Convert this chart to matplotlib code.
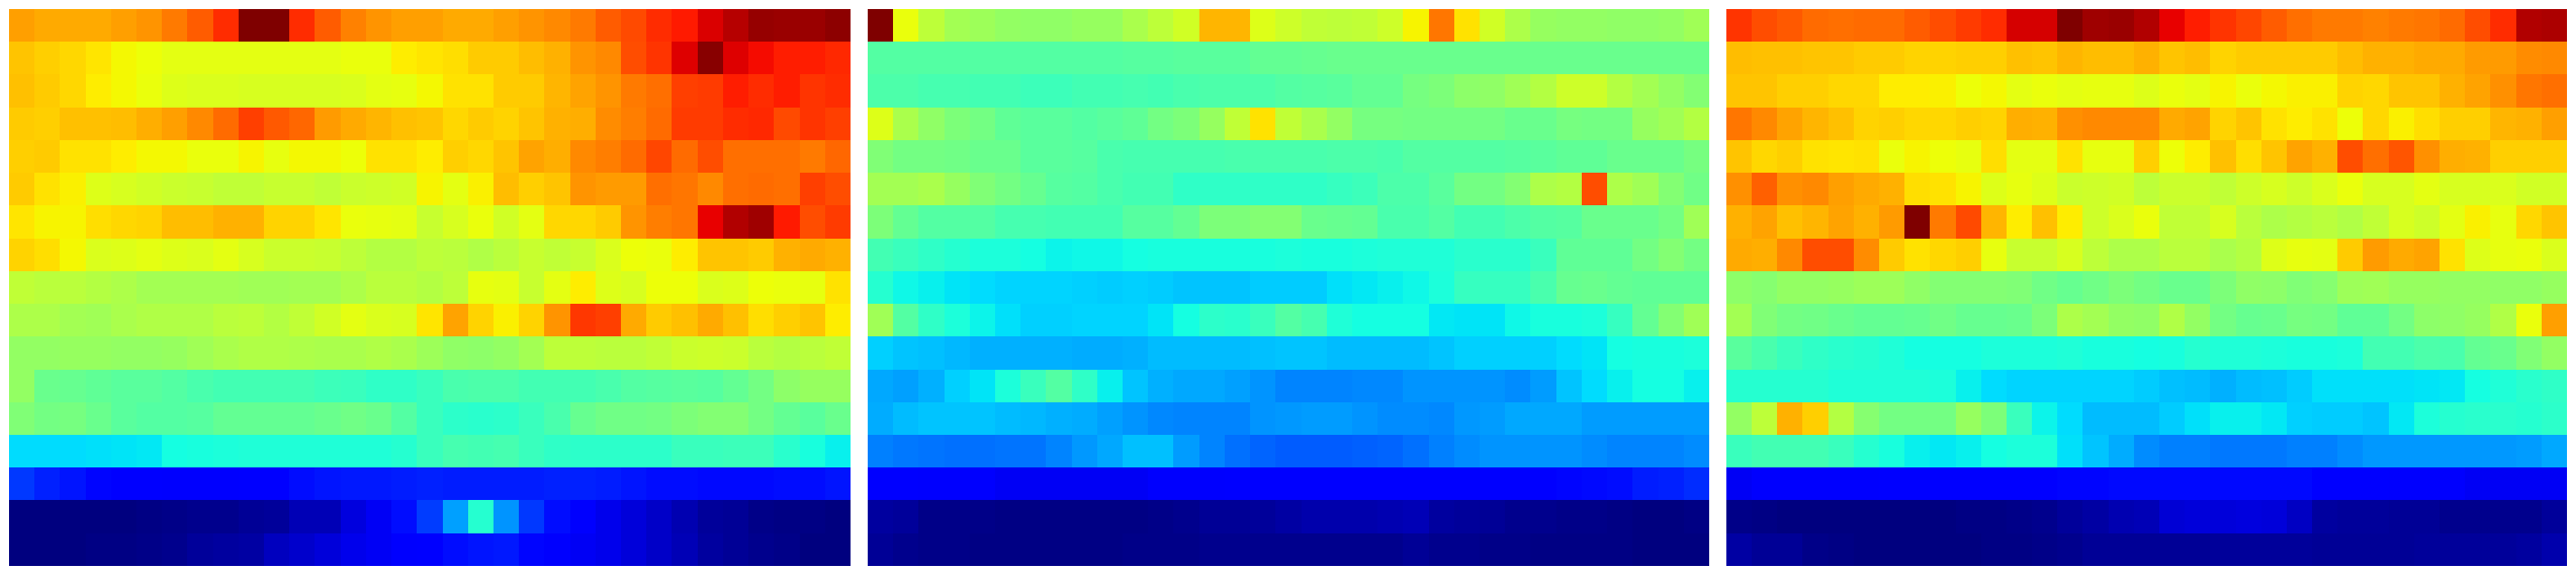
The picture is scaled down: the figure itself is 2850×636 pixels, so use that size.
import numpy as np
import matplotlib
matplotlib.use("Agg")
import matplotlib.pyplot as plt

# values, 17 rows x 33 columns, 0 = navy, 1 = dark red
panel_a = [
    [.74,.73,.73,.73,.74,.75,.78,.81,.86,1,1,.86,.81,.77,.75,.74,.74,.73,.73,.74,.75,.765,.78,.81,.83,.86,.88,.92,.95,.98,.975,.975,.985],
    [.70,.69,.68,.665,.645,.64,.625,.625,.625,.625,.625,.625,.625,.635,.635,.66,.665,.675,.695,.695,.71,.72,.75,.765,.825,.855,.915,.99,.915,.895,.875,.875,.865],
    [.705,.695,.68,.66,.645,.635,.62,.615,.615,.61,.61,.61,.61,.615,.625,.63,.645,.67,.67,.695,.695,.715,.735,.75,.78,.79,.84,.845,.875,.86,.875,.855,.86],
    [.695,.69,.705,.705,.71,.725,.74,.765,.795,.84,.815,.80,.745,.73,.715,.705,.70,.68,.695,.685,.70,.72,.725,.76,.775,.795,.845,.845,.86,.865,.83,.855,.84],
    [.69,.695,.67,.67,.66,.645,.645,.635,.635,.65,.63,.645,.645,.64,.67,.67,.66,.69,.68,.70,.735,.725,.765,.775,.795,.835,.795,.825,.79,.79,.79,.78,.80],
    [.695,.67,.655,.62,.61,.605,.595,.59,.585,.585,.59,.59,.585,.595,.60,.605,.65,.625,.655,.71,.69,.70,.75,.745,.745,.79,.785,.765,.79,.795,.79,.84,.825],
    [.665,.65,.65,.675,.68,.685,.71,.71,.72,.72,.685,.685,.665,.635,.63,.625,.59,.61,.635,.605,.625,.68,.68,.695,.75,.775,.785,.91,.955,.97,.88,.825,.845],
    [.685,.675,.645,.615,.62,.625,.62,.615,.625,.61,.595,.595,.59,.58,.57,.57,.58,.575,.565,.575,.59,.585,.59,.615,.64,.635,.66,.70,.70,.695,.72,.73,.72],
    [.585,.575,.575,.57,.56,.55,.55,.55,.55,.545,.545,.55,.55,.56,.575,.575,.57,.58,.63,.625,.59,.625,.66,.62,.61,.64,.64,.615,.62,.64,.635,.63,.67],
    [.56,.56,.55,.545,.555,.565,.565,.565,.575,.58,.57,.585,.605,.625,.615,.61,.665,.735,.685,.655,.685,.75,.85,.84,.73,.695,.705,.73,.705,.675,.69,.70,.66],
    [.53,.53,.535,.535,.53,.53,.535,.545,.555,.565,.565,.56,.555,.555,.565,.555,.54,.525,.52,.53,.55,.58,.58,.575,.575,.585,.595,.60,.595,.575,.57,.575,.585],
    [.53,.48,.475,.465,.46,.46,.45,.44,.43,.43,.43,.43,.425,.42,.41,.41,.42,.44,.445,.445,.43,.43,.43,.44,.45,.455,.46,.455,.47,.49,.52,.535,.535],
    [.505,.49,.495,.48,.46,.45,.45,.455,.47,.47,.47,.47,.48,.485,.48,.45,.42,.405,.40,.405,.42,.44,.475,.485,.485,.49,.50,.51,.51,.49,.47,.46,.48],
    [.34,.34,.34,.345,.35,.355,.375,.38,.385,.39,.39,.39,.39,.39,.39,.395,.42,.435,.43,.435,.42,.41,.405,.405,.405,.405,.42,.42,.425,.425,.40,.38,.36],
    [.18,.16,.145,.13,.12,.115,.11,.11,.11,.115,.115,.14,.145,.15,.15,.155,.16,.155,.155,.155,.155,.16,.16,.155,.145,.14,.14,.135,.135,.135,.14,.14,.145],
    [0,0,0,0,0,.005,.01,.015,.015,.02,.025,.05,.05,.085,.105,.14,.185,.285,.395,.27,.18,.14,.11,.095,.08,.065,.045,.025,.02,.01,.005,.005,0],
    [0,0,0,.005,.005,.01,.015,.025,.03,.035,.055,.07,.08,.095,.105,.11,.12,.14,.145,.15,.13,.11,.105,.095,.08,.065,.05,.03,.02,.015,.01,0,0],
]

panel_b = [
    [1,.635,.58,.55,.54,.53,.525,.525,.535,.535,.555,.58,.605,.715,.715,.62,.60,.585,.58,.585,.60,.65,.785,.67,.605,.56,.535,.53,.53,.525,.525,.53,.545],
    [.45,.45,.45,.45,.45,.45,.45,.45,.45,.45,.455,.455,.46,.46,.46,.47,.47,.475,.48,.48,.48,.48,.48,.48,.48,.48,.48,.48,.48,.48,.48,.48,.48],
    [.445,.445,.435,.435,.43,.43,.425,.425,.43,.43,.435,.43,.44,.445,.445,.445,.45,.455,.46,.47,.47,.495,.50,.52,.525,.545,.57,.60,.60,.57,.55,.53,.51],
    [.62,.555,.525,.50,.49,.465,.46,.46,.45,.46,.465,.49,.50,.535,.585,.67,.585,.555,.53,.495,.495,.49,.49,.49,.49,.48,.48,.495,.49,.49,.535,.545,.57],
    [.505,.49,.49,.485,.48,.48,.46,.46,.455,.44,.435,.435,.435,.435,.44,.44,.44,.44,.445,.445,.44,.45,.45,.45,.45,.455,.46,.465,.465,.48,.48,.48,.495],
    [.55,.55,.555,.535,.505,.49,.475,.455,.45,.44,.43,.43,.41,.41,.41,.41,.41,.41,.415,.425,.445,.445,.46,.49,.49,.51,.56,.57,.825,.56,.545,.51,.485],
    [.50,.47,.45,.45,.45,.435,.435,.43,.43,.43,.455,.455,.47,.50,.50,.51,.51,.48,.475,.47,.44,.44,.45,.43,.43,.445,.45,.455,.48,.48,.48,.49,.545],
    [.43,.42,.41,.395,.385,.385,.375,.365,.37,.37,.375,.38,.38,.38,.38,.38,.385,.38,.38,.385,.39,.39,.39,.40,.40,.40,.42,.465,.465,.465,.49,.51,.49],
    [.395,.37,.36,.35,.34,.335,.335,.335,.33,.325,.33,.325,.32,.32,.32,.325,.325,.325,.345,.355,.36,.37,.385,.415,.415,.415,.44,.475,.48,.47,.465,.465,.465],
    [.545,.45,.41,.385,.365,.345,.33,.33,.335,.335,.335,.35,.375,.405,.40,.42,.45,.435,.39,.375,.375,.375,.355,.35,.35,.37,.38,.38,.385,.415,.47,.51,.545],
    [.33,.32,.315,.305,.30,.30,.30,.30,.295,.295,.30,.31,.31,.31,.31,.315,.32,.32,.31,.31,.31,.31,.32,.33,.33,.33,.33,.34,.35,.375,.38,.38,.385],
    [.29,.285,.30,.33,.35,.385,.42,.45,.41,.36,.32,.30,.29,.29,.285,.27,.255,.255,.255,.26,.26,.27,.27,.27,.27,.265,.28,.32,.34,.36,.375,.375,.36],
    [.295,.31,.32,.32,.32,.31,.305,.30,.295,.285,.27,.26,.255,.255,.255,.27,.275,.28,.28,.27,.265,.265,.26,.275,.28,.29,.29,.29,.28,.28,.28,.28,.28],
    [.25,.245,.24,.235,.235,.24,.24,.255,.275,.29,.315,.315,.28,.255,.235,.225,.215,.215,.215,.22,.225,.235,.25,.265,.27,.27,.27,.27,.265,.255,.255,.255,.265],
    [.12,.115,.11,.11,.11,.105,.105,.105,.105,.105,.105,.11,.11,.11,.115,.115,.12,.12,.12,.12,.12,.12,.12,.12,.12,.12,.125,.13,.135,.14,.155,.16,.17],
    [.03,.025,.01,.01,.01,.005,.005,.005,.005,.005,.005,.01,.015,.02,.02,.025,.035,.04,.04,.04,.045,.05,.03,.025,.02,.015,.015,.01,.01,.005,0,0,.005],
    [.02,.015,.01,.01,.005,.005,.005,.005,.005,.005,.01,.01,.01,.015,.015,.015,.015,.015,.015,.015,.015,.02,.015,.015,.01,.01,.005,.005,.005,.005,0,0,0],
]

panel_c = [
    [.855,.825,.815,.795,.79,.795,.795,.81,.825,.845,.86,.925,.925,1,.97,.975,.955,.91,.875,.855,.835,.81,.79,.78,.78,.77,.78,.785,.795,.825,.86,.955,.96],
    [.71,.705,.705,.70,.70,.695,.695,.685,.685,.69,.69,.705,.70,.715,.71,.71,.72,.70,.71,.685,.695,.695,.695,.695,.71,.72,.72,.73,.73,.745,.745,.76,.765],
    [.70,.70,.69,.69,.68,.68,.66,.66,.655,.64,.645,.625,.635,.625,.63,.63,.62,.635,.625,.65,.635,.645,.655,.655,.685,.68,.70,.70,.72,.735,.755,.785,.79],
    [.785,.765,.735,.715,.705,.685,.69,.68,.68,.69,.685,.725,.72,.755,.765,.765,.765,.73,.735,.685,.70,.67,.66,.67,.64,.68,.655,.675,.69,.69,.715,.72,.74],
    [.70,.68,.69,.67,.665,.67,.635,.65,.64,.63,.675,.625,.625,.67,.63,.63,.69,.64,.66,.705,.675,.70,.735,.72,.825,.79,.82,.755,.725,.72,.69,.69,.69],
    [.755,.805,.755,.765,.74,.73,.72,.675,.67,.65,.62,.63,.62,.595,.60,.605,.58,.595,.595,.585,.60,.61,.60,.615,.635,.61,.61,.625,.61,.61,.615,.605,.605],
    [.72,.735,.705,.715,.735,.72,.745,1,.78,.83,.715,.66,.705,.66,.60,.615,.635,.585,.585,.61,.575,.56,.57,.575,.565,.585,.61,.60,.625,.655,.63,.68,.70],
    [.73,.725,.765,.825,.825,.76,.695,.67,.68,.69,.63,.59,.59,.61,.58,.56,.56,.575,.575,.555,.57,.62,.63,.625,.695,.745,.73,.735,.67,.62,.63,.635,.615],
    [.52,.515,.53,.53,.535,.54,.54,.525,.51,.51,.51,.505,.485,.475,.485,.50,.49,.48,.48,.50,.525,.52,.505,.515,.54,.545,.535,.535,.53,.53,.525,.525,.535],
    [.55,.505,.49,.485,.48,.47,.47,.475,.485,.475,.475,.48,.50,.56,.55,.53,.525,.565,.53,.49,.475,.48,.495,.49,.465,.465,.49,.52,.525,.535,.565,.635,.74],
    [.46,.44,.42,.41,.40,.395,.39,.375,.375,.375,.385,.385,.385,.39,.38,.38,.375,.38,.395,.39,.39,.385,.38,.38,.385,.43,.43,.445,.44,.47,.48,.505,.53],
    [.395,.395,.395,.395,.39,.39,.39,.39,.385,.36,.34,.335,.335,.335,.335,.335,.325,.315,.31,.30,.31,.315,.325,.345,.345,.345,.345,.35,.355,.375,.39,.40,.41],
    [.53,.58,.72,.69,.57,.515,.49,.49,.49,.535,.50,.42,.365,.34,.31,.31,.31,.325,.345,.36,.36,.355,.33,.325,.325,.32,.355,.385,.395,.40,.40,.395,.405],
    [.42,.43,.43,.43,.42,.395,.38,.36,.355,.36,.375,.385,.385,.345,.32,.295,.265,.25,.25,.245,.245,.245,.25,.25,.265,.275,.275,.275,.275,.275,.275,.28,.29],
    [.105,.11,.11,.11,.11,.11,.115,.115,.12,.12,.12,.125,.125,.13,.13,.135,.135,.135,.135,.135,.135,.135,.135,.12,.115,.115,.11,.11,.11,.105,.105,.105,.105],
    [.01,.005,0,0,0,0,0,0,0,.005,.005,.01,.015,.025,.035,.045,.05,.075,.08,.08,.085,.08,.06,.03,.025,.025,.02,.02,.015,.015,.015,.015,.025],
    [.035,.02,.02,.01,.005,0,0,0,0,0,.005,.005,.01,.015,.02,.02,.02,.02,.02,.025,.025,.025,.025,.02,.02,.02,.02,.025,.025,.025,.025,.03,.04],
]

panels = [panel_a, panel_b, panel_c]
lefts = [10, 960, 1910]

W, H = 2850, 636
fig = plt.figure(figsize=(W / 100, H / 100), dpi=100)
for data, left in zip(panels, lefts):
    ax = fig.add_axes([left / W, 1 - 626 / H, 930 / W, 616 / H])
    ax.imshow(np.array(data), cmap="jet", vmin=0, vmax=1, aspect="auto", interpolation="nearest")
    ax.axis("off")
fig.savefig("out.png", dpi=100)
